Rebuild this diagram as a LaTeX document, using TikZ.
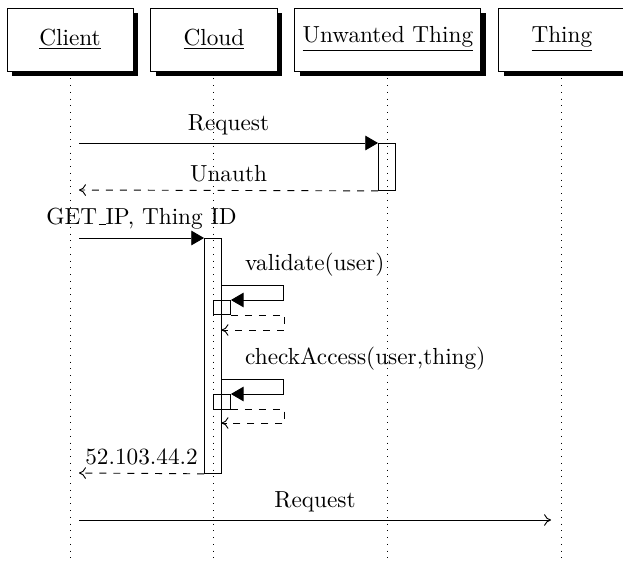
\documentclass[tikz,border=0pt]{standalone}
\usepackage{tikz}
\usetikzlibrary{positioning, arrows.meta, shadows}
\tikzset{
  instbox/.style={
    rectangle, draw, fill=white,
    drop shadow={opacity=1, fill=black},
    minimum height=27.1pt, minimum width=54.2pt,
    inner sep=3.33pt
  },
  actbox/.style={
    rectangle, draw, inner sep=0pt,
    minimum width=7.3pt
  },
  lifeline/.style={dash pattern=on 0.4pt off 2.5pt},
  callarrow/.style={-{Triangle[length=5.5pt,width=6.3pt]}},
  retarrow/.style={dashed, -{To[length=3pt,width=5pt]}},
  msgarrow/.style={-{To[length=3pt,width=5pt]}}
}

\begin{document}
\begin{tikzpicture}[x=0.43pt, y=-0.43pt, node distance=7.3pt]
  \useasboundingbox (0,0) rectangle (623,563);

  % instances
  \node[instbox] (client) at (70,39.5) {\underline{Client}};
  \node[instbox, right=of client] (cloud) {\underline{Cloud}};
  \node[instbox, right=of cloud] (unwanted) {\underline{Unwanted Thing}};
  \node[instbox, right=of unwanted] (thing) {\underline{Thing}};

  % lifelines
  \coordinate (floor) at (0,563);
  \foreach \inst in {client,cloud,unwanted,thing}
    \draw[lifeline] ([yshift=-3pt]\inst.south) -- (\inst.south |- floor);

  % activations
  \node[actbox, minimum height=20.2pt, anchor=north] (uact) at (387,143) {};
  \node[actbox, minimum height=101pt, anchor=north] (cact) at (213,238) {};
  \node[actbox, minimum height=6.2pt, anchor=north west] (vact) at (213,300) {};
  \node[actbox, minimum height=6.4pt, anchor=north west] (kact) at (213,394) {};

  % message ends
  \coordinate (reqc) at (79,143);
  \coordinate (unauthc) at (79,190);
  \coordinate (getc) at (79,238);
  \coordinate (ipc) at (79,473);
  \coordinate (req2c) at (79,520);
  \coordinate (req2t) at (551,520);
  \coordinate (vcall) at (221.5,285);
  \coordinate (vret) at (221.5,330);
  \coordinate (kcall) at (221.5,379);
  \coordinate (kret) at (221.5,423);

  \draw[callarrow] (reqc) -- node[above] {Request} (uact.north west);
  \draw[retarrow] (uact.south west) -- node[above] {Unauth} (unauthc);

  \draw[callarrow] (getc) -- node[above] {GET\kern.06em\rule{.3em}{.4pt}IP, Thing ID} (cact.north west);

  \draw[callarrow] (vcall) -- node[near start, above right] {validate(user)} ++(62,0) |- (vact.north east);
  \draw[retarrow] (vact.south east) -- ++(54,0) |- (vret);

  \draw[callarrow] (kcall) -- node[near start, above right] {checkAccess(user,thing)} ++(62,0) |- (kact.north east);
  \draw[retarrow] (kact.south east) -- ++(54,0) |- (kret);

  \draw[retarrow] (cact.south west) -- node[above] {52.103.44.2} (ipc);

  \draw[msgarrow] (req2c) -- node[above] {Request} (req2t);
\end{tikzpicture}
\end{document}
